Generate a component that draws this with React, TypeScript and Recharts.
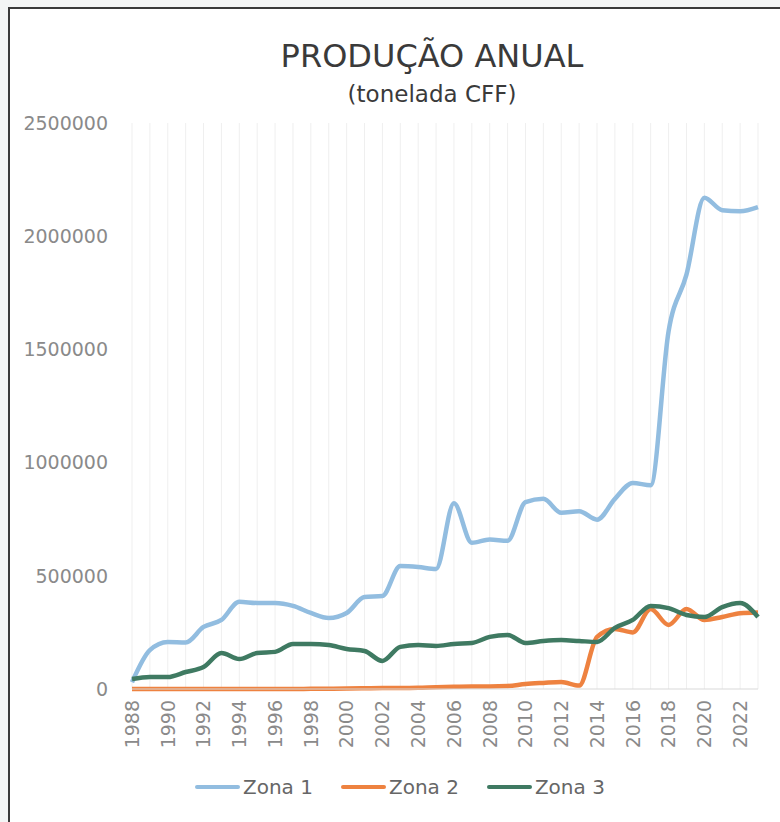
import React from 'react';
import { LineChart, Line, XAxis, YAxis, CartesianGrid, Legend } from 'recharts';

const years = [
  '1988', '1989', '1990', '1991', '1992', '1993', '1994', '1995', '1996', '1997', '1998', '1999',
  '2000', '2001', '2002', '2003', '2004', '2005', '2006', '2007', '2008', '2009', '2010', '2011',
  '2012', '2013', '2014', '2015', '2016', '2017', '2018', '2019', '2020', '2021', '2022', '2023',
];

const zona1 = [
  30000, 172000, 208000, 205000, 274000, 305000, 385000, 380000, 380000, 367000, 336000, 314000,
  336000, 406000, 411000, 543000, 539000, 530000, 820000, 646000, 660000, 655000, 825000, 840000,
  778000, 785000, 748000, 840000, 910000, 900000, 1580000, 1830000, 2170000, 2115000, 2110000, 2128000,
];

const zona2 = [
  0, 0, 0, 0, 0, 0, 0, 0, 0, 0, 1000, 1500,
  2000, 3000, 4000, 4000, 5000, 8000, 10000, 11000, 11000, 13000, 22000, 27000,
  31000, 15000, 230000, 265000, 250000, 353000, 283000, 353000, 305000, 318000, 335000, 338000,
];

const zona3 = [
  44000, 53000, 53000, 75000, 97000, 159000, 132000, 159000, 164000, 199000, 199000, 194000,
  177000, 168000, 124000, 186000, 194000, 190000, 199000, 203000, 230000, 239000, 203000, 212000,
  216000, 212000, 208000, 270000, 305000, 367000, 357000, 327000, 318000, 362000, 380000, 318000,
];

const yTicks = [0, 500000, 1000000, 1500000, 2000000, 2500000];

const seriesNames = ['Zona 1', 'Zona 2', 'Zona 3'];
const seriesColors = ['#92bde0', '#ee8240', '#3f7a62'];

const title = 'PRODUÇÃO ANUAL';
const subtitle = '(tonelada CFF)';

const data = years.map((y, i) => ({ year: y, z1: zona1[i], z2: zona2[i], z3: zona3[i] }));

const FONT = '"DejaVu Sans", Verdana, sans-serif';

const XTick = (props: any) => {
  const { x, y, payload } = props;
  if (Number(payload.value) % 2 !== 0) return null;
  const ty = y + 11;
  return (
    <text
      x={x}
      y={ty}
      transform={`rotate(-90, ${x}, ${ty})`}
      textAnchor="end"
      dy="0.36em"
      fontFamily={FONT}
      fontSize={19}
      fill="#8a8a8a"
    >
      {payload.value}
    </text>
  );
};

const LegendContent = (props: any) => {
  const payload = props.payload || [];
  return (
    <div
      style={{
        display: 'flex',
        alignItems: 'center',
        paddingLeft: 195,
        fontFamily: FONT,
        fontSize: 20,
        color: '#666666',
      }}
    >
      {payload.map((p: any) => (
        <div key={p.value} style={{ display: 'flex', alignItems: 'center', marginRight: 28 }}>
          <span
            style={{
              display: 'inline-block',
              width: 45,
              height: 4,
              borderRadius: 2,
              background: p.color,
              marginRight: 3,
            }}
          />
          <span>{p.value}</span>
        </div>
      ))}
    </div>
  );
};

export default function App() {
  return (
    <div style={{ position: 'fixed', left: 0, top: 0, width: 780, height: 822, background: '#f3f5f5', overflow: 'hidden' }}>
      <div
        style={{
          position: 'absolute',
          left: 8,
          top: 7,
          right: 0,
          bottom: 0,
          background: '#ffffff',
          borderLeft: '2px solid #3a3a3a',
          borderTop: '2px solid #3a3a3a',
        }}
      />
      <div
        style={{
          position: 'absolute',
          left: 0,
          width: 864,
          top: 36,
          textAlign: 'center',
          fontFamily: FONT,
          fontSize: 32,
          color: '#3a3a3a',
          lineHeight: '40px',
        }}
      >
        {title}
      </div>
      <div
        style={{
          position: 'absolute',
          left: 0,
          width: 864,
          top: 79,
          textAlign: 'center',
          fontFamily: FONT,
          fontSize: 23,
          color: '#3a3a3a',
          lineHeight: '30px',
        }}
      >
        {subtitle}
      </div>
      <div style={{ position: 'absolute', left: 0, top: 0 }}>
        <LineChart width={780} height={822} data={data} margin={{ top: 123, right: 22, left: 0, bottom: 63 }}>
          <CartesianGrid horizontal={false} vertical={true} stroke="#efefef" strokeWidth={1} />
          <XAxis
            dataKey="year"
            interval={0}
            height={70}
            tickSize={0}
            tickMargin={0}
            axisLine={{ stroke: '#d9d9d9', strokeWidth: 1 }}
            tickLine={false}
            tick={<XTick />}
          />
          <YAxis
            domain={[0, 2500000]}
            ticks={yTicks}
            width={132}
            axisLine={false}
            tickLine={false}
            tickSize={0}
            tickMargin={24}
            tick={{ fontFamily: FONT, fontSize: 19, fill: '#8a8a8a' }}
          />
          <Legend
            layout="horizontal"
            verticalAlign="middle"
            align="center"
            wrapperStyle={{ top: 775, left: 0, width: 780 }}
            content={<LegendContent />}
          />
          <Line type="monotone" dataKey="z1" name={seriesNames[0]} stroke={seriesColors[0]} strokeWidth={4.5} dot={false} isAnimationActive={false} />
          <Line type="monotone" dataKey="z2" name={seriesNames[1]} stroke={seriesColors[1]} strokeWidth={4.5} dot={false} isAnimationActive={false} />
          <Line type="monotone" dataKey="z3" name={seriesNames[2]} stroke={seriesColors[2]} strokeWidth={4.5} dot={false} isAnimationActive={false} />
        </LineChart>
      </div>
    </div>
  );
}
